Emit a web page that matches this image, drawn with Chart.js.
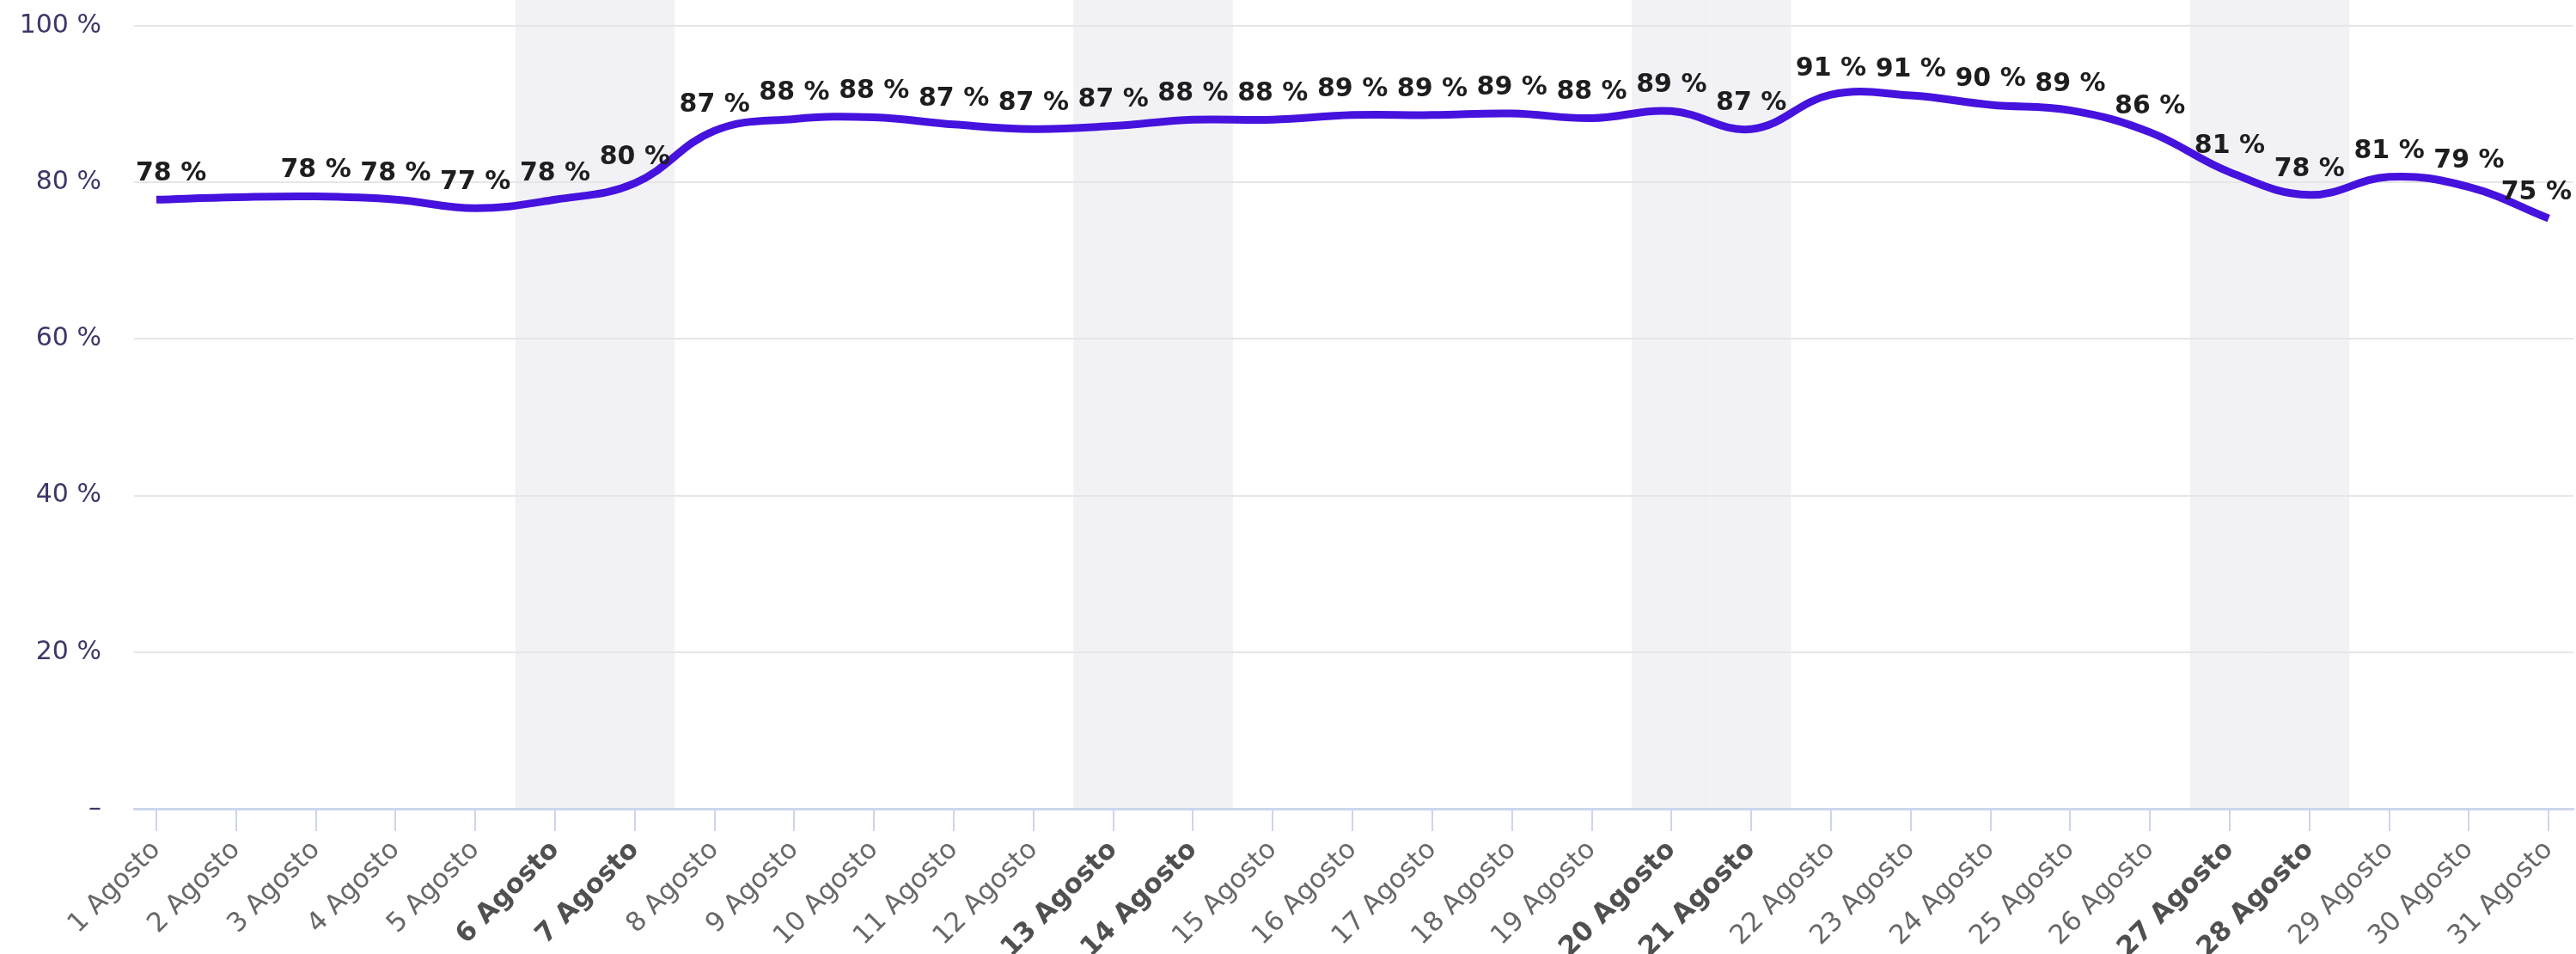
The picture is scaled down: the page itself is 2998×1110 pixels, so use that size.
<!DOCTYPE html>
<html>
<head>
<meta charset="utf-8">
<script src="https://cdn.jsdelivr.net/npm/chart.js@4/dist/chart.umd.min.js"></script>
<style>
  html, body { margin: 0; padding: 0; background: #fff; }
  #wrap { width: 2998px; height: 1110px; }
</style>
</head>
<body>
<div id="wrap"><canvas id="occChart" width="2998" height="1110"></canvas></div>
<script>
// dias del mes y porcentaje de ocupacion
const days = [1,2,3,4,5,6,7,8,9,10,11,12,13,14,15,16,17,18,19,20,21,22,23,24,25,26,27,28,29,30,31];
const categories = ["1 Agosto","2 Agosto","3 Agosto","4 Agosto","5 Agosto","6 Agosto","7 Agosto","8 Agosto",
  "9 Agosto","10 Agosto","11 Agosto","12 Agosto","13 Agosto","14 Agosto","15 Agosto","16 Agosto",
  "17 Agosto","18 Agosto","19 Agosto","20 Agosto","21 Agosto","22 Agosto","23 Agosto","24 Agosto",
  "25 Agosto","26 Agosto","27 Agosto","28 Agosto","29 Agosto","30 Agosto","31 Agosto"];
const occupancy = [77.8,78.1,78.2,77.8,76.7,77.8,79.9,86.6,88.1,88.3,87.4,86.8,87.2,88.0,88.0,88.6,
  88.6,88.8,88.2,89.1,86.8,91.2,91.1,89.9,89.2,86.4,81.3,78.4,80.7,79.4,75.4];
const weekendDays = [6,7,13,14,20,21,27,28];
const yTicks = [0,20,40,60,80,100];

const FONT = "'DejaVu Sans', Verdana, sans-serif";

// bandas grises para fines de semana
const weekendBands = {
  id: 'weekendBands',
  beforeDraw(chart) {
    const ctx = chart.ctx, x = chart.scales.x, area = chart.chartArea;
    ctx.save();
    ctx.fillStyle = '#f2f2f6';
    weekendDays.forEach(d => {
      const a = x.getPixelForValue(d - 0.5), b = x.getPixelForValue(d + 0.5);
      ctx.fillRect(a, 0, b - a, area.bottom);
    });
    ctx.restore();
  }
};

// etiquetas de valor encima de cada punto
const valueLabels = {
  id: 'valueLabels',
  afterDatasetsDraw(chart) {
    const ctx = chart.ctx, area = chart.chartArea;
    const meta = chart.getDatasetMeta(0);
    const boxes = [];
    ctx.save();
    ctx.font = "bold 30px " + FONT;
    ctx.fillStyle = '#1e1e1e';
    ctx.textAlign = 'center';
    ctx.textBaseline = 'middle';
    meta.data.forEach((pt, i) => {
      const txt = Math.round(occupancy[i]) + ' %';
      const w = ctx.measureText(txt).width;
      let cx = Math.min(Math.max(pt.x, area.left + 2 + w / 2), area.right - 2 - w / 2);
      const cy = pt.y - 30;
      const box = {l: cx - w / 2 - 3, r: cx + w / 2 + 3, t: cy - 16, b: cy + 16};
      const hit = boxes.some(o => box.l < o.r && box.r > o.l && box.t < o.b && box.b > o.t);
      if (hit) return;
      boxes.push(box);
      ctx.fillText(txt, cx, cy);
    });
    ctx.restore();
  }
};

new Chart(document.getElementById('occChart'), {
  type: 'line',
  data: {
    datasets: [{
      data: days.map((d, i) => ({x: d, y: occupancy[i]})),
      borderColor: '#4612dd',
      borderWidth: 9,
      tension: 0.4,
      pointRadius: 0,
      fill: false
    }]
  },
  options: {
    responsive: false,
    animation: false,
    devicePixelRatio: 1,
    layout: { padding: { top: 30, right: 3, left: 0, bottom: 0 } },
    plugins: { legend: { display: false }, tooltip: { enabled: false } },
    scales: {
      x: {
        type: 'linear',
        min: 0.72,
        max: 31.31,
        afterBuildTicks: s => { s.ticks = days.map(d => ({value: d})); },
        afterFit: s => { s.height = 169; },
        ticks: {
          autoSkip: false,
          minRotation: 45,
          maxRotation: 45,
          padding: 4,
          callback: (v, i) => categories[i],
          color: c => weekendDays.includes(days[c.index]) ? '#505050' : '#686868',
          font: c => ({ family: FONT, size: 31, weight: weekendDays.includes(days[c.index]) ? 'bold' : 'normal' })
        },
        grid: { drawOnChartArea: false, tickLength: 26, color: '#ccd6eb', lineWidth: 2 },
        border: { color: '#ccd6eb', width: 3 }
      },
      y: {
        min: 0,
        max: 100,
        afterBuildTicks: s => { s.ticks = yTicks.map(v => ({value: v})); },
        afterFit: s => { s.width = 156; },
        ticks: {
          padding: 2,
          color: '#3d3768',
          font: { family: FONT, size: 30 },
          callback: v => v === 0 ? '–' : v + ' %'
        },
        grid: { color: '#e6e6e6', lineWidth: 2, tickLength: 36, tickColor: 'rgba(0,0,0,0)' },
        border: { display: false }
      }
    }
  },
  plugins: [weekendBands, valueLabels]
});
</script>
</body>
</html>
